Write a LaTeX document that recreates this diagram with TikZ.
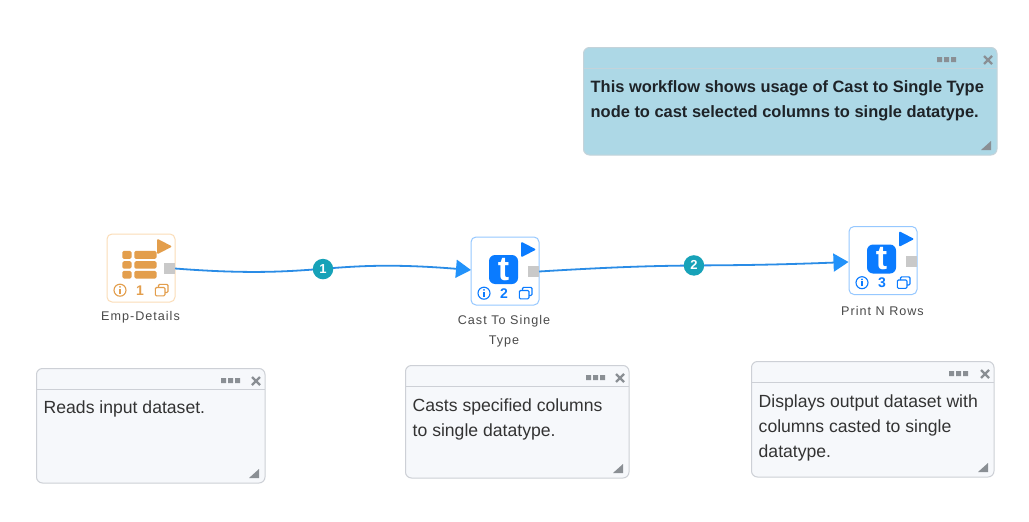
\documentclass[tikz,border=0pt]{standalone}
\usepackage{fontspec}
\setmainfont{Liberation Sans}
\usetikzlibrary{arrows.meta}
\definecolor{orangeA}{HTML}{E39E4C}
\definecolor{orangeB}{HTML}{FBDDB8}
\definecolor{blueA}{HTML}{0A7BFF}
\definecolor{blueB}{HTML}{96C8FF}
\definecolor{edgeC}{HTML}{2A8CE6}
\definecolor{tipC}{HTML}{2292FA}
\definecolor{teal1}{HTML}{17A2B8}
\definecolor{portC}{HTML}{C9C9C9}
\definecolor{noteF}{HTML}{F6F8FB}
\definecolor{noteB}{HTML}{CDD0D6}
\definecolor{skyF}{HTML}{ADD8E6}
\definecolor{skyB}{HTML}{C4D3DA}
\definecolor{greyI}{HTML}{8A8F94}
\definecolor{textN}{HTML}{333333}
\definecolor{textS}{HTML}{1E2328}
\definecolor{textL}{HTML}{4A4A4A}
\tikzset{
  x=1pt,y=-1pt,
  wfbox/.style={draw=#1,line width=1pt,rounded corners=5pt,fill=white},
  wfport/.style={fill=portC,draw=none,minimum width=11pt,minimum height=11pt,inner sep=0,outer sep=0},
  wfnum/.style={font=\fontsize{14}{14}\selectfont\bfseries,text=#1,inner sep=0},
  wflabel/.style={font=\fontsize{12.6}{19.5}\selectfont\addfontfeatures{LetterSpace=8},text=textL,align=center,inner sep=0},
  wfedge/.style={draw=edgeC,line width=1.8pt,-{Triangle[length=15pt,width=18pt,color=tipC]}},
  wfbadge/.style={circle,fill=teal1,minimum size=20.5pt,inner sep=0,text=white,font=\fontsize{13}{13}\selectfont\bfseries},
  notebody/.style={font=\fontsize{17.6}{25}\selectfont,text=textN,align=left,anchor=north west,inner sep=0},
  skybody/.style={font=\fontsize{16.43}{25}\selectfont\bfseries,text=textS,align=left,anchor=north west,inner sep=0},
}
% x y colour border number name
\newcommand{\wfframe}[6]{%
  \begin{scope}[shift={(#1,#2)}]
    \node[wfbox=#4,minimum width=68pt,minimum height=68pt,anchor=north west,inner sep=0] (#6) at (0,0) {};
    \fill[#3,draw=#3,line width=1.6pt,line join=round] (51.5,6.5) -- (64,13) -- (51.5,19.5) -- cycle;
    \node[wfport] (#6port) at (63,35) {};
    \node[circle,draw=#3,line width=1.1pt,minimum size=12pt,inner sep=0] (#6info) at (13.5,56.7) {};
    \fill[#3] (13.5,53.4) circle (0.95);
    \fill[#3] (12.6,55.4) rectangle (14.4,60);
    \node[wfnum=#3] (#6num) at (33.5,56.7) {#5};
    \draw[#3,line width=1.1pt,rounded corners=1.2pt] (52,54) -- (52,50.8) -- (61.5,50.8) -- (61.5,59) -- (58.5,59);
    \draw[#3,line width=1.1pt,rounded corners=1.2pt] (48.8,54) rectangle (58.5,62.3);
  \end{scope}%
}
% x y name
\newcommand{\wficon}[3]{%
  \begin{scope}[shift={(#1,#2)}]
    \node[fill=blueA,rounded corners=6pt,minimum size=29pt,inner sep=0,text=white,font=\fontsize{34}{34}\selectfont\bfseries] (#3icon) at (33,33) {\raisebox{-1pt}{t}};
  \end{scope}%
}
% x1 y1 x2 y2 headery fill border name dotsoffset
\newcommand{\wfnote}[9]{%
  \node[draw=#7,fill=#6,line width=1pt,rounded corners=6pt,minimum width={#3-#1},minimum height={#4-#2},anchor=north west,inner sep=0,outer sep=0] (#8) at (#1,#2) {};
  \draw[#7,line width=1pt] (#1,#5) -- (#3,#5);
  \fill[greyI] (#3-#9,#5-11) rectangle +(5,5) (#3-#9+7,#5-11) rectangle +(5,5) (#3-#9+14,#5-11) rectangle +(5,5);
  \draw[greyI,line width=2.2pt] (#3-13,#5-12) -- (#3-5,#5-4) (#3-13,#5-4) -- (#3-5,#5-12);
  \fill[greyI] (#3-6,#4-14) -- (#3-6,#4-5) -- (#3-16,#4-5) -- cycle;
}
\begin{document}
\begin{tikzpicture}
\useasboundingbox (0,0) rectangle (1029,522);
\fill[white] (0,0) rectangle (1029,522);
% nodes
\wfframe{106.5}{233.5}{orangeA}{orangeB}{1}{a}
\begin{scope}[shift={(106.5,233.5)}]
  \foreach \yy/\hh in {17.3/8,27.7/7.5,37.3/7.7}{
    \fill[orangeA,rounded corners=1.5pt] (15.8,\yy) rectangle (25,\yy+\hh);
    \fill[orangeA,rounded corners=1.5pt] (27.8,\yy) rectangle (50,\yy+\hh);
  }
\end{scope}
\wfframe{470.5}{236.5}{blueA}{blueB}{2}{b}
\wficon{470.5}{236.5}{b}
\wfframe{848.5}{226}{blueA}{blueB}{3}{c}
\wficon{848.5}{226}{c}
\node[wflabel] (alabel) at (140.5,317) {Emp-Details};
\node[wflabel] (blabel) at (504,331) {Cast To Single\\Type};
\node[wflabel] (clabel) at (882.5,311) {Print N Rows};
% connectors
\coordinate (bin) at (471,270);
\coordinate (cin) at (848.5,262);
\draw[wfedge] (aport.east) .. controls (323,280) and (323,258) .. node[wfbadge,pos=.5] (e1) {1} (bin);
\draw[wfedge] (bport.east) .. controls (694,262) and (694,268) .. node[wfbadge,pos=.5] (e2) {2} (cin);
% notes
\wfnote{583.5}{47.5}{997}{155}{68}{skyF}{skyB}{sky}{60}
\node[skybody] (skytext) at (590.5,80) {This workflow shows usage of Cast to Single Type\\node to cast selected columns to single datatype.};
\wfnote{36.5}{368.5}{265}{483}{389}{noteF}{noteB}{n1}{44}
\node[notebody] (n1text) at (43.5,400.5) {Reads input dataset.};
\wfnote{405.5}{365.5}{629}{478}{386}{noteF}{noteB}{n2}{43}
\node[notebody] (n2text) at (412.5,398.5) {Casts specified columns\\to single datatype.};
\wfnote{751.5}{361.5}{994}{477}{382}{noteF}{noteB}{n3}{45}
\node[notebody] (n3text) at (758.5,394.5) {Displays output dataset with\\columns casted to single\\datatype.};
\end{tikzpicture}
\end{document}
